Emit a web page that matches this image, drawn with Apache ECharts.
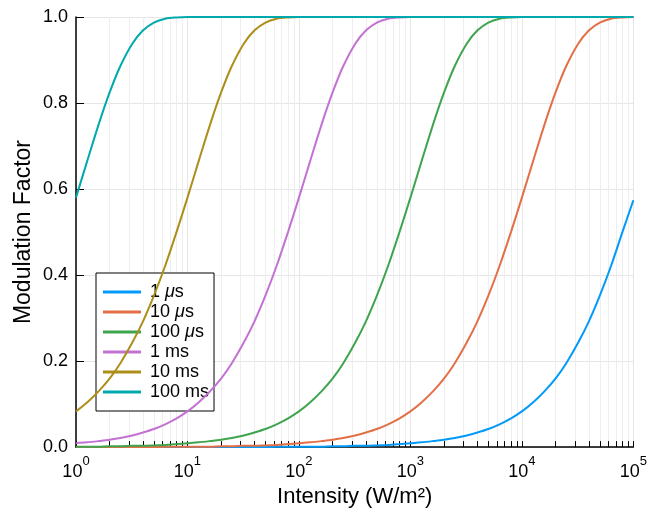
<!DOCTYPE html>
<html>
<head>
<meta charset="utf-8">
<script src="https://cdn.jsdelivr.net/npm/echarts@6/dist/echarts.min.js"></script>
<style>
  html, body { margin: 0; padding: 0; background: #fff; }
  #chart { width: 650px; height: 513px; }
</style>
</head>
<body>
<div id="chart"></div>
<script>
// intensity samples (W/m²), ~10 per decade along the log axis
var intensity = [1, 1.25, 1.6, 2, 2.5, 3.2, 4, 5, 6.3, 8,
    10, 12.5, 16, 20, 25, 32, 40, 50, 63, 80,
    100, 125, 160, 200, 250, 320, 400, 500, 630, 800,
    1000, 1250, 1600, 2000, 2500, 3200, 4000, 5000, 6300, 8000,
    10000, 12500, 16000, 20000, 25000, 32000, 40000, 50000, 63000, 80000,
    100000]

var names = ["1 μs", "10 μs", "100 μs", "1 ms", "10 ms", "100 ms"]
var colors = ["#009afa", "#e36f47", "#3ea44e", "#c371d2", "#ac8e18", "#00a9ad"]

// modulation factor read per curve
var us1 = [0, 0, 0, 0, 0, 0, 0, 0, 0, 0,
    0, 0, 0, 0, 0, 0, 0, 0, 0.001, 0.001,
    0.001, 0.001, 0.001, 0.002, 0.002, 0.003, 0.003, 0.004, 0.005, 0.007,
    0.009, 0.011, 0.014, 0.017, 0.021, 0.027, 0.034, 0.042, 0.053, 0.067,
    0.083, 0.103, 0.130, 0.159, 0.195, 0.243, 0.293, 0.352, 0.421, 0.501,
    0.574]
var us10 = [0, 0, 0, 0, 0, 0, 0, 0, 0.001, 0.001,
    0.001, 0.001, 0.001, 0.002, 0.002, 0.003, 0.003, 0.004, 0.005, 0.007,
    0.009, 0.011, 0.014, 0.017, 0.021, 0.027, 0.034, 0.042, 0.053, 0.067,
    0.083, 0.103, 0.130, 0.159, 0.195, 0.243, 0.293, 0.352, 0.421, 0.501,
    0.580, 0.662, 0.751, 0.824, 0.886, 0.938, 0.969, 0.987, 0.996, 0.999,
    1]
var us100 = [0.001, 0.001, 0.001, 0.002, 0.002, 0.003, 0.003, 0.004, 0.005, 0.007,
    0.009, 0.011, 0.014, 0.017, 0.021, 0.027, 0.034, 0.042, 0.053, 0.067,
    0.083, 0.103, 0.130, 0.159, 0.195, 0.243, 0.293, 0.352, 0.421, 0.501,
    0.580, 0.662, 0.751, 0.824, 0.886, 0.938, 0.969, 0.987, 0.996, 0.999,
    1, 1, 1, 1, 1, 1, 1, 1, 1, 1,
    1]
var ms1 = [0.009, 0.011, 0.014, 0.017, 0.021, 0.027, 0.034, 0.042, 0.053, 0.067,
    0.083, 0.103, 0.130, 0.159, 0.195, 0.243, 0.293, 0.352, 0.421, 0.501,
    0.580, 0.662, 0.751, 0.824, 0.886, 0.938, 0.969, 0.987, 0.996, 0.999,
    1, 1, 1, 1, 1, 1, 1, 1, 1, 1,
    1, 1, 1, 1, 1, 1, 1, 1, 1, 1,
    1]
var ms10 = [0.083, 0.103, 0.130, 0.159, 0.195, 0.243, 0.293, 0.352, 0.421, 0.501,
    0.580, 0.662, 0.751, 0.824, 0.886, 0.938, 0.969, 0.987, 0.996, 0.999,
    1, 1, 1, 1, 1, 1, 1, 1, 1, 1,
    1, 1, 1, 1, 1, 1, 1, 1, 1, 1,
    1, 1, 1, 1, 1, 1, 1, 1, 1, 1,
    1]
var ms100 = [0.580, 0.662, 0.751, 0.824, 0.886, 0.938, 0.969, 0.987, 0.996, 0.999,
    1, 1, 1, 1, 1, 1, 1, 1, 1, 1,
    1, 1, 1, 1, 1, 1, 1, 1, 1, 1,
    1, 1, 1, 1, 1, 1, 1, 1, 1, 1,
    1, 1, 1, 1, 1, 1, 1, 1, 1, 1,
    1]

var font = "Liberation Sans"
var chart = echarts.init(document.getElementById("chart"))

function pairs(vals) {
    return intensity.map(function (x, i) { return [x, vals[i]] })
}

var allSeries = [us1, us10, us100, ms1, ms10, ms100].map(function (vals, i) {
    return {
        name: names[i],
        type: "line",
        data: pairs(vals),
        showSymbol: false,
        smooth: 0.3,
        lineStyle: { color: colors[i], width: 2 },
        itemStyle: { color: colors[i] },
        z: 3 + i
    }
})

var option = {
    animation: false,
    backgroundColor: "#fff",
    color: colors,
    grid: { left: 76, right: 14, top: 17, bottom: 62 },
    legend: {
        orient: "vertical",
        left: 96,
        top: 273,
        icon: "rect",
        itemWidth: 38,
        itemHeight: 3,
        itemGap: 0,
        padding: [9, 5, 9, 7],
        borderColor: "#000",
        borderWidth: 1,
        borderRadius: 0,
        backgroundColor: "#fff",
        textStyle: {
            fontFamily: font, fontSize: 18, color: "#000", lineHeight: 20, padding: [0, 0, 0, 4],
            rich: { i: { fontFamily: font, fontSize: 18, fontStyle: "italic", color: "#000", lineHeight: 20 } }
        },
        formatter: function (n) { return n.replace("μ", "{i|μ}") },
        data: names
    },
    xAxis: {
        type: "log",
        logBase: 10,
        min: 1,
        max: 100000,
        name: "Intensity (W/m²)",
        nameLocation: "middle",
        nameGap: 37,
        nameTextStyle: { fontFamily: font, fontSize: 22, color: "#000" },
        axisLine: { lineStyle: { color: "#000", width: 1.5 } },
        axisTick: { show: true, inside: true, length: 6, lineStyle: { color: "#000" } },
        minorTick: { show: true, splitNumber: 9, length: 6, lineStyle: { color: "#000" } },
        splitLine: { show: true, lineStyle: { color: "#e6e6e6" } },
        minorSplitLine: { show: true, lineStyle: { color: "#eeeeee" } },
        axisLabel: {
            margin: 8,
            formatter: function (v) {
                return "{b|10}{s|" + Math.round(Math.log10(v)) + "}"
            },
            rich: {
                b: { fontFamily: font, fontSize: 18, color: "#000", lineHeight: 20, verticalAlign: "bottom" },
                s: { fontFamily: font, fontSize: 13, color: "#000", lineHeight: 26, verticalAlign: "top" }
            }
        }
    },
    yAxis: {
        type: "value",
        min: 0,
        max: 1,
        interval: 0.2,
        name: "Modulation Factor",
        nameLocation: "middle",
        nameGap: 41,
        nameMoveOverlap: false,
        nameTextStyle: { fontFamily: font, fontSize: 23, color: "#000" },
        axisLine: { show: true, lineStyle: { color: "#000", width: 1.5 } },
        axisTick: { show: true, inside: true, length: 8, lineStyle: { color: "#000" } },
        splitLine: { show: true, lineStyle: { color: "#e6e6e6" } },
        axisLabel: {
            margin: 8,
            fontFamily: font, fontSize: 18, color: "#000",
            formatter: function (v) { return v.toFixed(1) }
        }
    },
    series: allSeries
}

chart.setOption(option)
</script>
</body>
</html>
